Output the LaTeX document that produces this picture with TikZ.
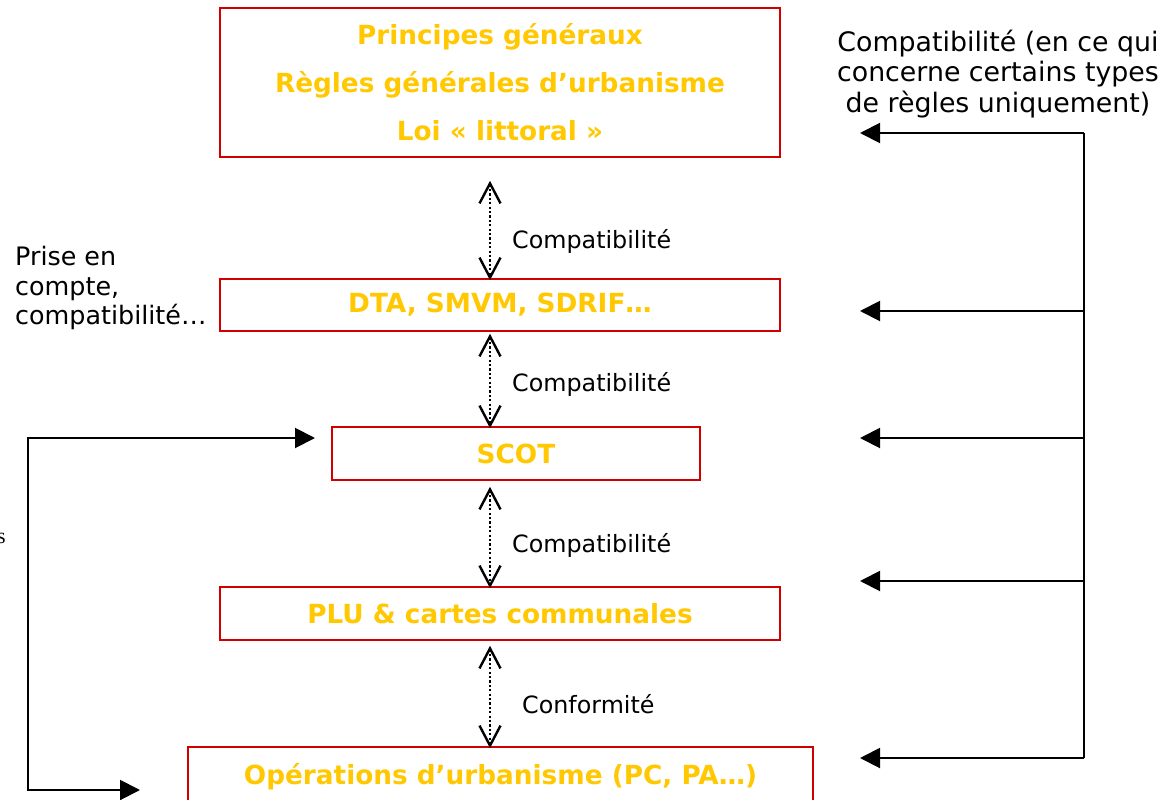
\documentclass[tikz,border=0pt]{standalone}
\usepackage{fontspec}
\setmainfont{DejaVu Sans}
\newfontfamily\serifs{Liberation Serif}
\usetikzlibrary{arrows.meta}
\definecolor{boxred}{HTML}{D00000}
\definecolor{gold}{HTML}{FFC800}
\tikzset{
  box/.style={draw=boxred, line width=1.6pt, fill=white, inner sep=0pt,
    text=gold, font=\bfseries\fontsize{26.3}{48}\selectfont, align=center},
  rel/.style={font=\fontsize{23.8}{26}\selectfont, anchor=west, inner sep=0pt},
  dotarrow/.style={line width=2.2pt, dash pattern=on 2.2pt off 2.2pt,
    {Straight Barb[length=20pt,width=21pt,line width=2.4pt]}-{Straight Barb[length=20pt,width=21pt,line width=2.4pt]}},
  solid arrow/.style={line width=2pt, -{Triangle[length=20pt,width=20pt]}},
}
\begin{document}
\begin{tikzpicture}[x=1pt,y=-1pt]
\useasboundingbox (0,0) rectangle (1164,800);
% boxes
\node[box, minimum width=560pt, minimum height=149pt] (top) at (500,82.5)
  {Principes généraux\\Règles générales d’urbanisme\\Loi « littoral »};
\node[box, minimum width=560pt, minimum height=52pt] (dta) at (500,305) {DTA, SMVM, SDRIF…};
\node[box, minimum width=368pt, minimum height=53pt] (scot) at (516,453.5) {SCOT};
\node[box, minimum width=560pt, minimum height=53pt] (plu) at (500,613.5) {PLU \& cartes communales};
\node[box, minimum width=625pt, minimum height=60pt] (ops) at (500.5,777) {Opérations d’urbanisme (PC, PA…)};
% vertical dotted links
\coordinate (ax) at (490,0);
\draw[dotarrow] ([yshift=-23pt]top.south -| ax) -- ([yshift=-2pt]dta.north -| ax);
\draw[dotarrow] ([yshift=-2pt]dta.south -| ax) -- ([yshift=-2pt]scot.north -| ax);
\draw[dotarrow] ([yshift=-6pt]scot.south -| ax) -- ([yshift=-2pt]plu.north -| ax);
\draw[dotarrow] ([yshift=-5pt]plu.south -| ax) -- ([yshift=-2pt]ops.north -| ax);
\node[rel] (l1) at (512,241) {Compatibilité};
\node[rel] (l2) at (512,384) {Compatibilité};
\node[rel] (l3) at (512,545) {Compatibilité};
\node[rel] (l4) at (522,704) {Conformité};
% right side
\coordinate (rtop) at (1084,133);
\coordinate (rbot) at (1084,758);
\coordinate (e1) at (860,133);
\coordinate (e2) at (860,311);
\coordinate (e3) at (860,438);
\coordinate (e4) at (860,581);
\coordinate (e5) at (860,758);
\draw[line width=2pt] (rtop) -- (rbot);
\foreach \e in {e1,e2,e3,e4,e5}
  \draw[solid arrow] (\e -| rtop) -- (\e);
\node[font=\fontsize{26.8}{30.5}\selectfont, align=center, inner sep=0pt] (rlab) at (998,74)
  {Compatibilité (en ce qui\\concerne certains types\\de règles uniquement)};
% left side
\coordinate (lc) at (28,438);
\coordinate (ld) at (28,790);
\coordinate (sin) at (315,438);
\coordinate (oin) at (140,790);
\draw[line width=2pt, {Triangle[length=20pt,width=20pt]}-{Triangle[length=20pt,width=20pt]}]
  (sin) -- (lc) -- (ld) -- (oin);
\node[font=\fontsize{25.4}{29.5}\selectfont, align=left, anchor=west, inner sep=0pt] (llab) at (15,288)
  {Prise en\\compte,\\compatibilité…};
\node[font=\serifs\fontsize{22}{26}\selectfont, anchor=east, inner sep=0pt] (frag) at (6,538) {s};
\end{tikzpicture}
\end{document}
